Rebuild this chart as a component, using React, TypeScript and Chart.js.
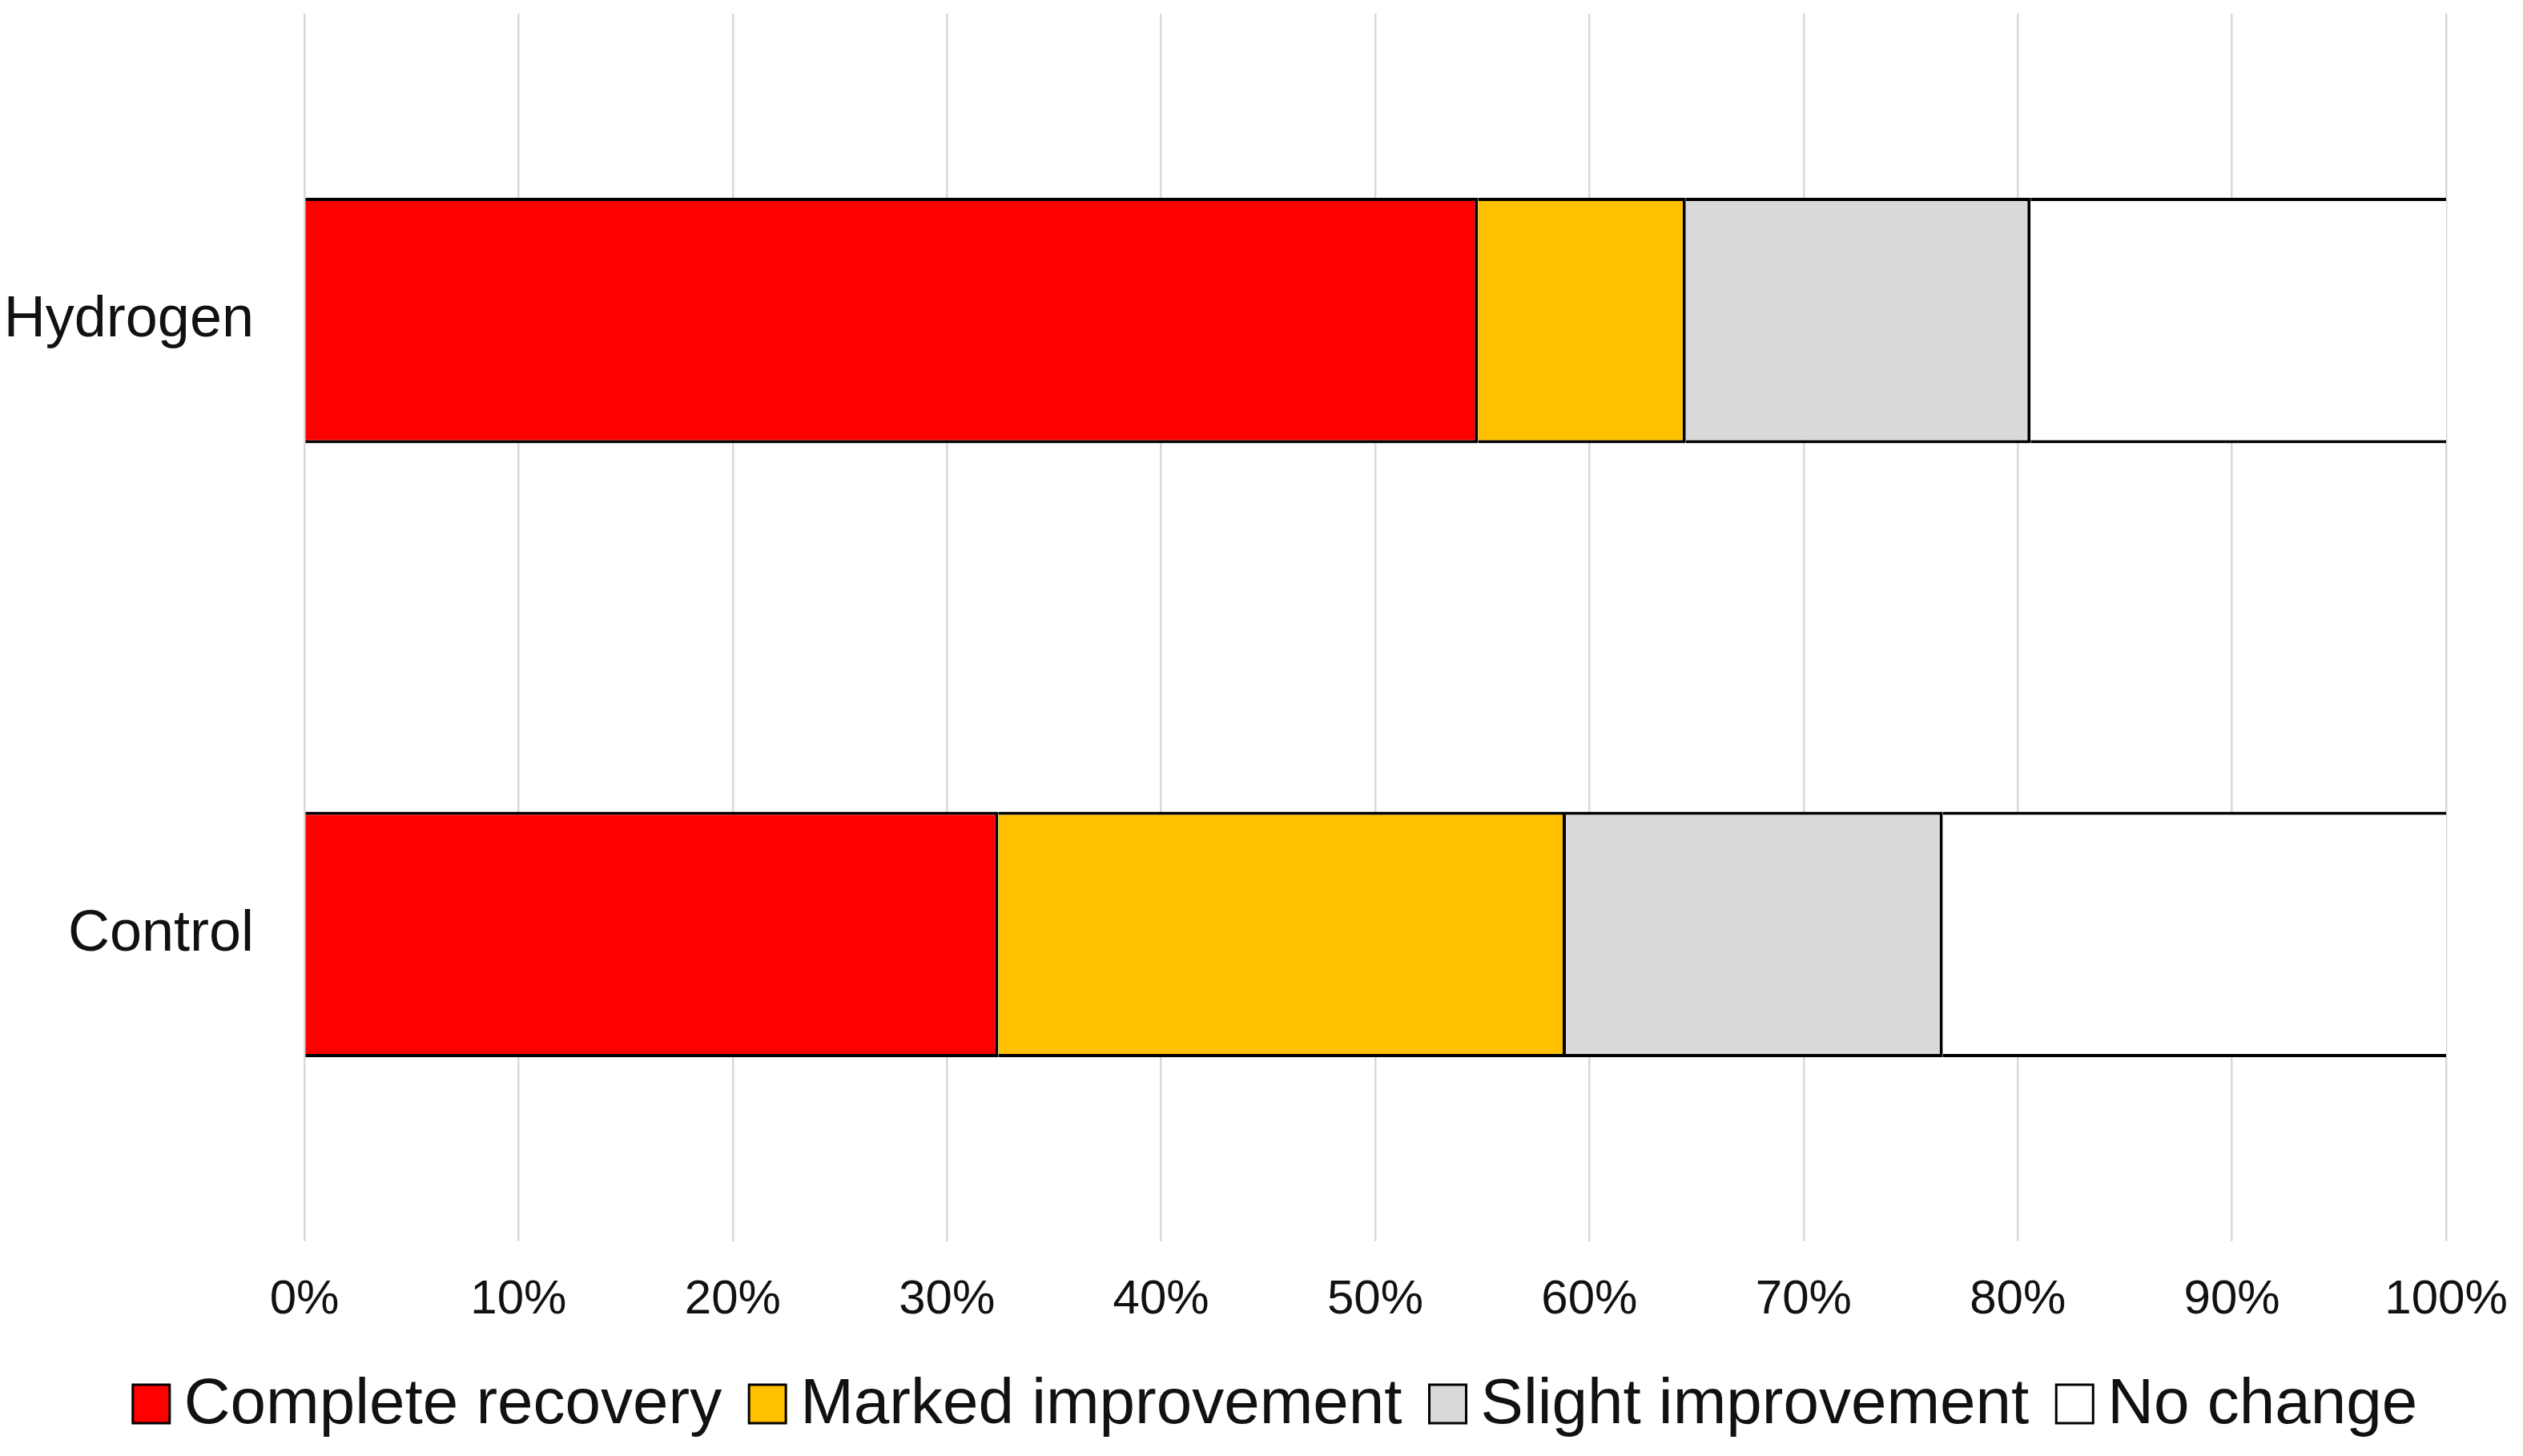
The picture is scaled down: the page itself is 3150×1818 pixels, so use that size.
import React, { useEffect, useRef } from 'react';
import { Chart, registerables } from 'chart.js';

Chart.register(...registerables);

// ---- data ----
const categories = ['Hydrogen', 'Control'];
const seriesNames = ['Complete recovery', 'Marked improvement', 'Slight improvement', 'No change'];
const completeRecovery = [54.8, 32.4];
const markedImprovement = [9.7, 26.5];
const slightImprovement = [16.1, 17.6];
const noChange = [19.4, 23.5];
const seriesColors = ['#FF0000', '#FFC000', '#D9D9D9', '#FFFFFF'];
const xMin = 0;
const xMax = 100;
const xStep = 10;

const FONT = '"Liberation Sans", Arial, Helvetica, sans-serif';

const legendPlugin = {
  id: 'customBottomLegend',
  afterDraw(chart: any) {
    const ctx = chart.ctx;
    const fontSize = 80;
    const boxW = 46;
    const boxH = 48;
    const boxGap = 18;
    const itemGap = 34;
    const cy = 1753;
    ctx.save();
    ctx.font = `${fontSize}px ${FONT}`;
    const items = chart.data.datasets.map((ds: any) => ({
      label: ds.label,
      color: ds.backgroundColor,
      w: ctx.measureText(ds.label).width,
    }));
    let total = 0;
    items.forEach((it: any, i: number) => {
      total += boxW + boxGap + it.w + (i < items.length - 1 ? itemGap : 0);
    });
    let x = 1592 - total / 2;
    items.forEach((it: any) => {
      ctx.fillStyle = it.color;
      ctx.fillRect(x, cy - boxH / 2, boxW, boxH);
      ctx.lineWidth = 3;
      ctx.strokeStyle = '#000';
      ctx.strokeRect(x, cy - boxH / 2, boxW, boxH);
      ctx.fillStyle = '#111';
      ctx.textBaseline = 'middle';
      ctx.textAlign = 'left';
      ctx.fillText(it.label, x + boxW + boxGap, cy + 2);
      x += boxW + boxGap + it.w + itemGap;
    });
    ctx.restore();
  },
};

export default function App() {
  const canvasRef = useRef<HTMLCanvasElement | null>(null);

  useEffect(() => {
    if (!canvasRef.current) return;
    const seriesValues = [completeRecovery, markedImprovement, slightImprovement, noChange];
    const bw = 4;
    const chart = new Chart(canvasRef.current, {
      type: 'bar',
      data: {
        labels: categories,
        datasets: seriesNames.map((name, i) => ({
          label: name,
          data: seriesValues[i],
          backgroundColor: seriesColors[i],
          borderColor: '#000000',
          borderWidth:
            i < seriesNames.length - 1
              ? { top: bw, bottom: bw, left: 0, right: bw }
              : { top: bw, bottom: bw, left: 0, right: 0 },
          borderSkipped: false,
          categoryPercentage: 0.4,
          barPercentage: 1.0,
        })),
      },
      options: {
        indexAxis: 'y',
        responsive: false,
        animation: false,
        layout: { padding: { top: 17, right: 96, bottom: 118, left: 0 } },
        plugins: {
          legend: { display: false },
          tooltip: { enabled: false },
          title: { display: false },
        },
        scales: {
          x: {
            stacked: true,
            min: xMin,
            max: xMax,
            border: { display: false },
            grid: { color: '#D9D9D9', lineWidth: 2.5, drawTicks: false },
            ticks: {
              stepSize: xStep,
              autoSkip: false,
              maxRotation: 0,
              padding: 37,
              color: '#111',
              font: { family: FONT, size: 60 },
              callback: (v: any) => `${v}%`,
            },
            afterFit: (scale: any) => {
              scale.height = 150;
              scale.paddingLeft = 0;
              scale.paddingRight = 0;
              scale.paddingTop = 0;
              scale.paddingBottom = 0;
            },
          },
          y: {
            stacked: true,
            border: { display: false },
            grid: { display: false, drawTicks: false },
            ticks: {
              padding: 63,
              color: '#111',
              font: { family: FONT, size: 72 },
            },
            afterFit: (scale: any) => {
              scale.width = 380;
              scale.paddingLeft = 0;
              scale.paddingRight = 0;
              scale.paddingTop = 0;
              scale.paddingBottom = 0;
            },
          },
        },
      },
      plugins: [legendPlugin],
    } as any);
    return () => chart.destroy();
  }, []);

  return (
    <div style={{ position: 'absolute', top: 0, left: 0, width: 3150, height: 1818, background: '#fff' }}>
      <canvas ref={canvasRef} width={3150} height={1818} style={{ width: 3150, height: 1818, display: 'block' }} />
    </div>
  );
}
